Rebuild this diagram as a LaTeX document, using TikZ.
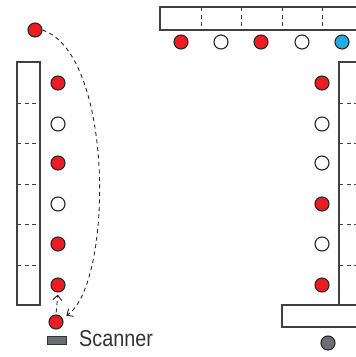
\documentclass[tikz,border=0pt]{standalone}
\usepackage{fontspec}
\usepackage{tikz}
\usetikzlibrary{arrows.meta, positioning}
\newfontfamily\scanfont[FakeStretch=0.86]{Liberation Sans}
\definecolor{dotred}{RGB}{237, 28, 36}
\definecolor{dotblue}{RGB}{39, 170, 225}
\definecolor{dotgray}{RGB}{109, 110, 113}
\definecolor{edgegray}{RGB}{64, 64, 64}

\begin{document}
\begin{tikzpicture}[
    x=1pt, y=-1pt,
    dot/.style={circle, draw=black!85, line width=1.1pt, minimum size=14pt, inner sep=0pt},
    reddot/.style={dot, fill=dotred},
    whitedot/.style={dot, fill=white},
    bluedot/.style={dot, fill=dotblue},
    graydot/.style={dot, fill=dotgray},
    panel/.style={draw=edgegray, line width=1.1pt},
    divider/.style={draw=edgegray, line width=0.9pt, dash pattern=on 4pt off 3.5pt},
    flow/.style={-{Straight Barb[length=5pt, width=9pt]}, draw=black!85, line width=0.9pt, dash pattern=on 4pt off 3.5pt}
]
\useasboundingbox (0,0) rectangle (356,357);
\clip (0,0) rectangle (356,357);

% Panels
\draw[panel] (17,62) rectangle (40,305);
\foreach \y in {103,143,184,224,265}
    \draw[divider] (17,\y) -- (40,\y);
\draw[panel] (160,7) rectangle (380,30);
\foreach \x in {201,241,282,322}
    \draw[divider] (\x,7) -- (\x,30);
\draw[panel] (339,62) rectangle (380,305);
\foreach \y in {103,143,184,224,265}
    \draw[divider] (339,\y) -- (356,\y);
\draw[panel] (282,305) rectangle (380,327);

% Left column
\node[reddot] (start) at (35,30) {};
\node[reddot] (l1) at (58,83) {};
\node[whitedot] (l2) at (58,124) {};
\node[reddot] (l3) at (58,163) {};
\node[whitedot] (l4) at (58,204) {};
\node[reddot] (l5) at (58,244) {};
\node[reddot] (l6) at (58,285) {};
\node[reddot] (scan) at (56,322) {};

% Scanner
\node[rectangle, draw=black!80, fill=dotgray, line width=0.8pt, minimum width=19pt, minimum height=8pt, inner sep=0pt] (scanner) at (56.5,340) {};
\node[anchor=west, inner sep=0pt, font=\scanfont\fontsize{23}{25}\selectfont, text=black!80] (scanlabel) at (79,339) {Scanner};

% Top row
\node[reddot] (t1) at (181,42) {};
\node[whitedot] (t2) at (221,42) {};
\node[reddot] (t3) at (261,42) {};
\node[whitedot] (t4) at (302,42) {};
\node[bluedot] (t5) at (342,42) {};

% Right column
\node[reddot] (r1) at (322,83) {};
\node[whitedot] (r2) at (322,124) {};
\node[whitedot] (r3) at (322,163) {};
\node[reddot] (r4) at (322,204) {};
\node[whitedot] (r5) at (322,244) {};
\node[reddot] (r6) at (322,285) {};
\node[graydot] (park) at (328,343) {};

% Moves
\draw[flow] (start.east) .. controls (115,55) and (113,285) .. ([shift={(5pt,1pt)}]scan.north east);
\draw[flow, shorten >=2pt, shorten <=2pt] (scan.north) -- (l6.south);
\end{tikzpicture}
\end{document}
